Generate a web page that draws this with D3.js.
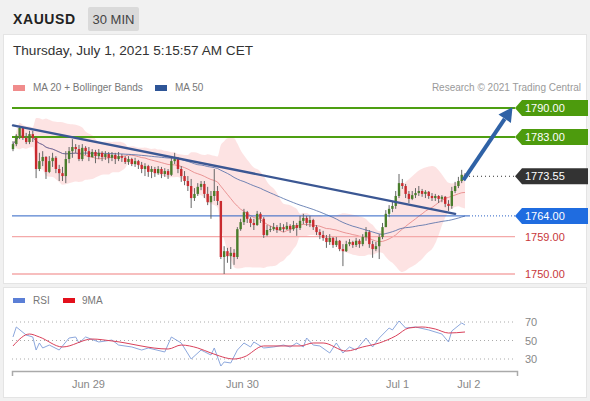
<!DOCTYPE html>
<html>
<head>
<meta charset="utf-8">
<script src="https://cdn.jsdelivr.net/npm/d3@7"></script>
<style>
body { margin: 0; background: #f1f1f1; font-family: "Liberation Sans", Arial, sans-serif; }
svg { display: block; }
</style>
</head>
<body>
<svg width="590" height="401"></svg>
<script>
var svg = d3.select("svg"),
  width = +svg.attr("width"),
  height = +svg.attr("height");

// 30 min candles, oldest first (open = previous close)
var firstOpen = 1780.1;
var closes = [
  1781.3, 1783.3, 1785.2, 1782.8, 1781.8, 1783.7, 1782.8, 1775.3, 1777.2, 1778.2,
  1774.6, 1777.2, 1778.0, 1775.3, 1774.3, 1773.6, 1777.7, 1779.6, 1780.6, 1780.1,
  1777.7, 1780.4, 1779.6, 1778.2, 1779.4, 1778.4, 1779.2, 1778.2, 1778.9, 1778.0,
  1778.7, 1777.7, 1778.4, 1778.0, 1777.0, 1777.7, 1776.5, 1777.2, 1776.3, 1775.3,
  1776.0, 1774.6, 1775.3, 1774.3, 1775.3, 1774.1, 1774.8, 1773.9, 1777.2, 1777.7,
  1775.3, 1773.6, 1772.4, 1771.2, 1768.3, 1769.3, 1771.0, 1771.7, 1769.3, 1767.3,
  1768.8, 1770.0, 1767.6, 1754.1, 1755.5, 1754.3, 1755.1, 1754.1, 1760.8, 1762.5,
  1764.9, 1763.3, 1762.3, 1761.8, 1764.5, 1763.3, 1759.4, 1760.6, 1760.8, 1761.3,
  1760.6, 1761.3, 1760.8, 1761.6, 1760.8, 1761.8, 1761.1, 1762.8, 1763.5, 1762.3,
  1763.0, 1761.3, 1760.1, 1759.4, 1758.7, 1757.7, 1758.7, 1757.0, 1758.0, 1756.0,
  1755.5, 1757.2, 1757.7, 1757.0, 1758.0, 1757.2, 1758.9, 1760.1, 1757.2, 1756.0,
  1756.7, 1758.9, 1761.3, 1764.5, 1765.7, 1766.4, 1768.8, 1771.9, 1771.2, 1769.3,
  1768.1, 1769.0, 1769.5, 1770.0, 1769.3, 1769.8, 1768.8, 1768.3, 1768.8, 1768.1,
  1768.6, 1766.9, 1766.4, 1770.0, 1771.2, 1772.4, 1773.9, 1773.55
];
var highs = [
  1782.0, 1783.7, 1785.7, 1785.2, 1784.0, 1784.5, 1784.5, 1783.0, 1779.2, 1779.6,
  1778.4, 1778.4, 1779.2, 1778.4, 1776.3, 1775.8, 1779.6, 1780.6, 1782.5, 1781.3,
  1781.1, 1781.3, 1780.8, 1780.6, 1780.1, 1779.9, 1780.1, 1779.6, 1779.6, 1779.4,
  1779.4, 1779.2, 1779.4, 1778.9, 1778.4, 1778.4, 1778.0, 1778.0, 1777.5, 1777.0,
  1776.7, 1776.3, 1776.0, 1775.8, 1776.0, 1775.8, 1775.5, 1775.3, 1778.4, 1779.2,
  1778.2, 1776.0, 1774.8, 1773.6, 1772.9, 1770.7, 1771.9, 1772.4, 1772.4, 1771.0,
  1770.0, 1775.3, 1771.2, 1767.6, 1756.7, 1756.3, 1756.5, 1756.0, 1761.3, 1763.3,
  1765.7, 1765.2, 1763.7, 1763.3, 1765.2, 1764.9, 1763.7, 1761.8, 1761.6, 1762.3,
  1761.8, 1762.3, 1762.0, 1762.5, 1762.0, 1762.8, 1762.3, 1764.0, 1764.5, 1764.0,
  1764.0, 1763.3, 1761.8, 1760.8, 1760.4, 1759.4, 1759.6, 1758.9, 1758.9, 1758.2,
  1757.2, 1758.0, 1758.4, 1758.0, 1758.7, 1758.4, 1759.6, 1761.3, 1760.6, 1758.0,
  1757.7, 1759.6, 1762.3, 1765.4, 1766.6, 1767.6, 1770.0, 1774.1, 1772.9, 1771.7,
  1770.0, 1770.0, 1770.7, 1771.2, 1770.5, 1770.2, 1770.0, 1769.5, 1769.3, 1769.0,
  1769.0, 1768.8, 1767.8, 1771.0, 1772.2, 1773.4, 1775.1, 1774.3
];
var lows = [
  1779.6, 1780.8, 1782.5, 1782.3, 1781.3, 1781.3, 1781.8, 1773.1, 1774.8, 1776.0,
  1772.9, 1774.3, 1775.8, 1774.3, 1772.4, 1772.4, 1771.9, 1776.7, 1778.0, 1779.2,
  1777.2, 1777.2, 1778.7, 1777.2, 1778.0, 1776.7, 1777.7, 1777.2, 1777.5, 1776.7,
  1777.2, 1776.5, 1777.2, 1777.0, 1776.5, 1776.3, 1776.0, 1775.8, 1775.3, 1774.3,
  1773.6, 1773.4, 1773.1, 1773.4, 1773.9, 1773.1, 1773.4, 1772.9, 1773.6, 1776.5,
  1774.3, 1772.2, 1771.4, 1770.0, 1765.9, 1767.6, 1768.8, 1770.2, 1768.3, 1766.6,
  1763.3, 1767.6, 1766.6, 1753.6, 1750.0, 1752.7, 1751.2, 1752.2, 1753.6, 1760.4,
  1761.8, 1762.3, 1761.3, 1760.6, 1761.6, 1762.3, 1758.7, 1759.1, 1760.1, 1760.4,
  1759.9, 1760.4, 1760.1, 1760.6, 1759.9, 1760.4, 1759.2, 1760.6, 1762.0, 1761.6,
  1761.3, 1760.6, 1759.4, 1758.4, 1758.0, 1756.3, 1757.0, 1756.3, 1756.5, 1755.5,
  1751.9, 1755.3, 1756.7, 1756.3, 1756.5, 1756.3, 1756.7, 1758.0, 1756.3, 1753.9,
  1755.5, 1753.6, 1758.4, 1761.3, 1763.7, 1764.9, 1765.7, 1768.3, 1770.5, 1768.3,
  1767.1, 1767.8, 1768.3, 1768.8, 1768.6, 1768.3, 1768.1, 1767.6, 1767.6, 1767.1,
  1767.3, 1766.1, 1765.2, 1765.7, 1769.5, 1770.7, 1771.9, 1772.9
];

// key levels
var resistances = [1790, 1783];
var lastPrice = 1773.55;
var pivot = 1764;
var supports = [1759, 1750];

// [candle index, price]
var trendline = [[0, 1785.8], [134, 1764.5]];
var targetArrow = [[136.5, 1772.6], [151.4, 1790.2]];

// RSI pane, [candle index, value]
var rsiPts = [
  [0, 53.8], [1, 64.6], [4, 55.9], [6, 53.8], [7, 39.7], [8, 47.3], [9, 41.9], [11, 45.1],
  [14, 39.7], [17, 52.7], [19, 53.8], [20, 47.3], [22, 53.8], [26, 48.4], [30, 50.5],
  [32, 45.1], [36, 43.0], [39, 39.7], [41, 41.9], [46, 37.6], [48, 53.8], [51, 47.3],
  [54, 30.0], [57, 39.7], [60, 34.3], [61, 41.9], [63, 22.4], [64, 26.8], [66, 25.7],
  [68, 39.7], [70, 47.3], [72, 43.0], [73, 48.4], [76, 41.9], [79, 43.0], [82, 45.1],
  [84, 43.0], [86, 47.3], [88, 43.0], [89, 52.7], [91, 45.1], [93, 44.1], [96, 36.5],
  [98, 47.3], [100, 36.5], [102, 43.0], [104, 39.7], [107, 52.7], [109, 43.0], [111, 52.7],
  [114, 63.5], [115, 61.4], [117, 71.1], [119, 63.5], [122, 64.6], [126, 61.4], [130, 57.0],
  [132, 48.4], [133, 60.3], [136, 68.9], [137, 66.8]
];
var rsiMaPts = [
  [0, 44.1], [5, 57.0], [8, 53.8], [15, 43.0], [24, 51.6], [30, 49.5], [47, 40.8],
  [51, 45.1], [56, 41.9], [60, 36.5], [67, 30.0], [70, 32.2], [76, 44.1], [87, 44.1],
  [91, 47.3], [94, 47.3], [101, 38.6], [106, 43.0], [111, 47.3], [116, 54.9], [120, 63.5],
  [124, 64.6], [128, 62.4], [132, 58.1], [137, 59.2]
];
var rsiLevels = [70, 50, 30];

var dayTicks = [22.7, 69.4, 116.4, 138];
var dayLabels = ["Jun 29", "Jun 30", "Jul 1", "Jul 2"];

var candles = closes.map(function(c, i) {
  return { i: i, o: i == 0 ? firstOpen : closes[i - 1], h: highs[i], l: lows[i], c: c };
});

// scales
var x = d3.scaleLinear().domain([0, closes.length - 1]).range([13, 465]);
var y = d3.scaleLinear().domain([1750, 1790]).range([274, 108]);
var yr = d3.scaleLinear().domain([30, 70]).range([359, 322]);
var left = 12, right = 515, tagEnd = 588;

// moving average + std over trailing window
function rolling(n) {
  return closes.map(function(c, i) {
    var w = closes.slice(Math.max(0, i - n + 1), i + 1);
    var m = d3.mean(w);
    var sd = Math.sqrt(d3.mean(w, function(v) { return (v - m) * (v - m); }));
    return { i: i, m: m, sd: sd };
  });
}
var ma20 = rolling(20), ma50 = rolling(50);

// header + panels
svg.append("rect").attr("width", width).attr("height", height).attr("fill", "#f1f1f1");
svg.append("rect").attr("x", 3.5).attr("y", 34.5).attr("width", 583).attr("height", 249)
  .attr("fill", "#fff").attr("stroke", "#e4e4e4");
svg.append("rect").attr("x", 3.5).attr("y", 287.5).attr("width", 583).attr("height", 110)
  .attr("fill", "#fff").attr("stroke", "#e4e4e4");

svg.append("text").attr("x", 13).attr("y", 24).attr("font-size", 14).attr("font-weight", "bold")
  .attr("letter-spacing", 0.6).attr("fill", "#222").text("XAUUSD");
svg.append("rect").attr("x", 88).attr("y", 7).attr("width", 51).attr("height", 24).attr("rx", 2)
  .attr("fill", "#dadada");
svg.append("text").attr("x", 113.5).attr("y", 24).attr("text-anchor", "middle").attr("font-size", 13)
  .attr("fill", "#444").text("30 MIN");
svg.append("text").attr("x", 13).attr("y", 55).attr("font-size", 13.6).attr("fill", "#333")
  .text("Thursday, July 1, 2021 5:15:57 AM CET");

// legend
var legend = svg.append("g").attr("font-size", 10).attr("fill", "#777");
legend.append("rect").attr("x", 13).attr("y", 85).attr("width", 12).attr("height", 6).attr("fill", "#f08c8c");
legend.append("text").attr("x", 33).attr("y", 91).text("MA 20 + Bollinger Bands");
legend.append("rect").attr("x", 155).attr("y", 85).attr("width", 12).attr("height", 6).attr("fill", "#2e5597");
legend.append("text").attr("x", 175).attr("y", 91).text("MA 50");
svg.append("text").attr("x", 581).attr("y", 91).attr("text-anchor", "end").attr("font-size", 10)
  .attr("fill", "#9a9a9a").text("Research \u00a9 2021 Trading Central");

// bollinger band + MAs
svg.append("path").datum(ma20)
  .attr("fill", "#fde0e0").attr("opacity", 0.9)
  .attr("d", d3.area().curve(d3.curveMonotoneX)
    .x(function(d) { return x(d.i); })
    .y0(function(d) { return y(d.m - 2 * d.sd); })
    .y1(function(d) { return y(d.m + 2 * d.sd); }));
svg.append("path").datum(ma20).attr("fill", "none").attr("stroke", "#e58080").attr("stroke-width", 0.8)
  .attr("d", d3.line().x(function(d) { return x(d.i); }).y(function(d) { return y(d.m); }));
svg.append("path").datum(ma50).attr("fill", "none").attr("stroke", "#4c6aa6").attr("stroke-width", 0.8)
  .attr("d", d3.line().x(function(d) { return x(d.i); }).y(function(d) { return y(d.m); }));

// level lines
var lastX = x(closes.length - 1) + 4;
var levels = svg.append("g");
resistances.forEach(function(v) {
  levels.append("line").attr("x1", left).attr("x2", right).attr("y1", y(v)).attr("y2", y(v))
    .attr("stroke", "#4e9f12").attr("stroke-width", 2);
});
supports.forEach(function(v) {
  levels.append("line").attr("x1", left).attr("x2", right).attr("y1", y(v)).attr("y2", y(v))
    .attr("stroke", "#f4a9a9").attr("stroke-width", 1.3);
});
levels.append("line").attr("x1", left).attr("x2", lastX).attr("y1", y(pivot)).attr("y2", y(pivot))
  .attr("stroke", "#2b62c4").attr("stroke-width", 1);
levels.append("line").attr("x1", lastX).attr("x2", right).attr("y1", y(pivot)).attr("y2", y(pivot))
  .attr("stroke", "#2b62c4").attr("stroke-width", 1).attr("stroke-dasharray", "1,2");
levels.append("line").attr("x1", lastX).attr("x2", right).attr("y1", y(lastPrice)).attr("y2", y(lastPrice))
  .attr("stroke", "#333").attr("stroke-width", 1).attr("stroke-dasharray", "1,3");

// candles
var cg = svg.append("g").selectAll("g").data(candles).enter().append("g");
cg.append("line")
  .attr("x1", function(d) { return x(d.i); }).attr("x2", function(d) { return x(d.i); })
  .attr("y1", function(d) { return y(d.h); }).attr("y2", function(d) { return y(d.l); })
  .attr("stroke", "#666").attr("stroke-width", 1);
cg.append("rect")
  .attr("x", function(d) { return x(d.i) - 1.2; })
  .attr("width", 2.4)
  .attr("y", function(d) { return y(Math.max(d.o, d.c)); })
  .attr("height", function(d) { return Math.max(0.8, Math.abs(y(d.o) - y(d.c))); })
  .attr("fill", function(d) { return d.c >= d.o ? "#4a7d2c" : "#c92a2f"; });

// trendline
svg.append("line")
  .attr("x1", x(trendline[0][0])).attr("y1", y(trendline[0][1]))
  .attr("x2", x(trendline[1][0])).attr("y2", y(trendline[1][1]))
  .attr("stroke", "#3b5793").attr("stroke-width", 2.4).attr("stroke-linecap", "round");

// target arrow
var a0 = [x(targetArrow[0][0]), y(targetArrow[0][1])],
  a1 = [x(targetArrow[1][0]), y(targetArrow[1][1])],
  ang = Math.atan2(a1[1] - a0[1], a1[0] - a0[0]),
  headLen = 14, headW = 7.5,
  base = [a1[0] - headLen * Math.cos(ang), a1[1] - headLen * Math.sin(ang)];
svg.append("line").attr("x1", a0[0]).attr("y1", a0[1]).attr("x2", base[0]).attr("y2", base[1])
  .attr("stroke", "#2f62a6").attr("stroke-width", 4);
svg.append("path").attr("fill", "#2f62a6")
  .attr("d", "M" + a1 + "L" + [base[0] + headW * Math.sin(ang), base[1] - headW * Math.cos(ang)] +
    "L" + [base[0] - headW * Math.sin(ang), base[1] + headW * Math.cos(ang)] + "Z");

// price tags
function tag(v, fill) {
  var cy = y(v);
  svg.append("path").attr("fill", fill)
    .attr("d", "M" + right + "," + cy + "L" + (right + 7) + "," + (cy - 8) + "L" + tagEnd + "," + (cy - 8) +
      "L" + tagEnd + "," + (cy + 8) + "L" + (right + 7) + "," + (cy + 8) + "Z");
  svg.append("text").attr("x", 525).attr("y", cy + 4).attr("font-size", 11).attr("fill", "#fff")
    .text(v.toFixed(2));
}
resistances.forEach(function(v) { tag(v, "#4d9b0d"); });
tag(lastPrice, "#333333");
tag(pivot, "#1f6ce0");
supports.forEach(function(v) {
  svg.append("text").attr("x", 525).attr("y", y(v) + 4).attr("font-size", 11).attr("fill", "#c8373a")
    .text(v.toFixed(2));
});

// RSI pane
var rl = svg.append("g").attr("font-size", 10).attr("fill", "#777");
rl.append("rect").attr("x", 13).attr("y", 298).attr("width", 12).attr("height", 5).attr("fill", "#5b7fd6");
rl.append("text").attr("x", 33).attr("y", 304).text("RSI");
rl.append("rect").attr("x", 63).attr("y", 298).attr("width", 12).attr("height", 5).attr("fill", "#e3101c");
rl.append("text").attr("x", 82).attr("y", 304).text("9MA");

rsiLevels.forEach(function(v) {
  svg.append("line").attr("x1", left).attr("x2", right).attr("y1", yr(v)).attr("y2", yr(v))
    .attr("stroke", "#aaa").attr("stroke-width", 1).attr("stroke-dasharray", "1,3");
  svg.append("text").attr("x", 525).attr("y", yr(v) + 4).attr("font-size", 11).attr("fill", "#888").text(v);
});

svg.append("path").datum(rsiPts).attr("fill", "none").attr("stroke", "#7f9dd8").attr("stroke-width", 0.9)
  .attr("d", d3.line().x(function(d) { return x(d[0]); }).y(function(d) { return yr(d[1]); }));
svg.append("path").datum(rsiMaPts).attr("fill", "none").attr("stroke", "#d9405a").attr("stroke-width", 1)
  .attr("d", d3.line().curve(d3.curveMonotoneX).x(function(d) { return x(d[0]); }).y(function(d) { return yr(d[1]); }));

// time axis
var xa = d3.scaleLinear().domain([x.invert(12), x.invert(517)]).range([12, 517]);
var ax = svg.append("g").attr("transform", "translate(0,371)")
  .call(d3.axisBottom(xa).tickValues(dayTicks)
    .tickFormat(function(d, i) { return dayLabels[i]; })
    .tickSizeInner(0).tickSizeOuter(5).tickPadding(9));
ax.select(".domain").attr("stroke", "#aaa").attr("stroke-width", 1.5);
ax.selectAll("text").attr("font-size", 11).attr("fill", "#888")
  .attr("font-family", "Liberation Sans, Arial, sans-serif");
</script>
</body>
</html>
